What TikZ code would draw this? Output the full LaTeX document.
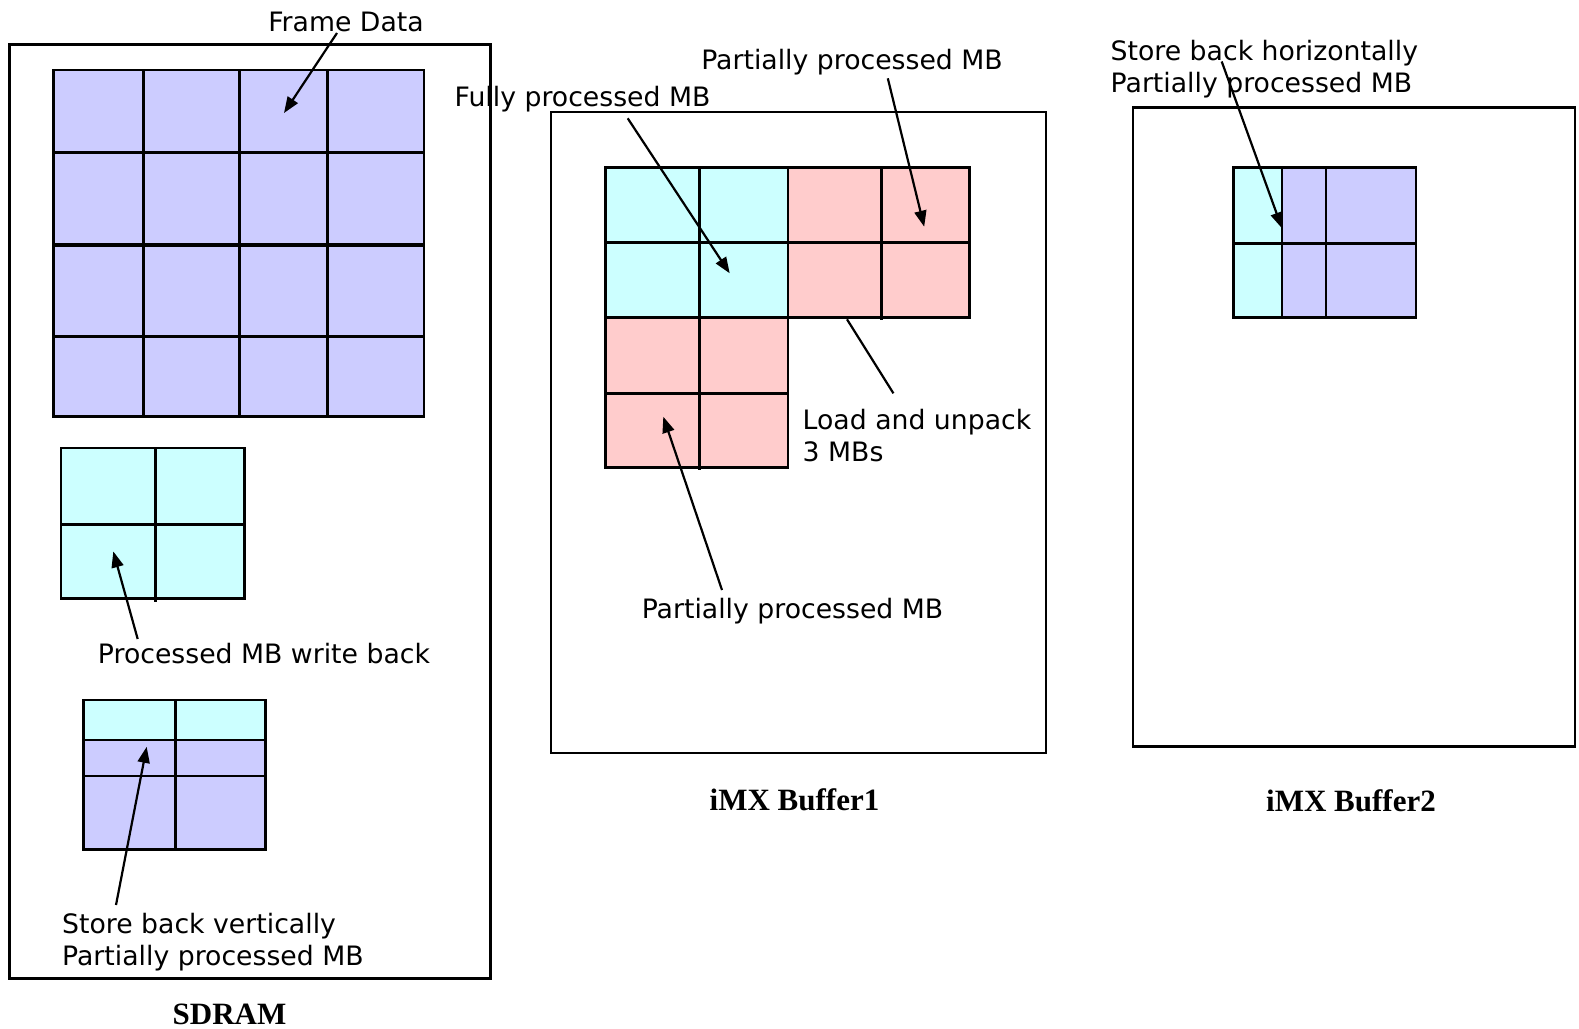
\documentclass[tikz,border=0pt]{standalone}
\usepackage{fontspec}
\usetikzlibrary{arrows.meta}
\newfontfamily\labfont{DejaVu Sans}
\newfontfamily\ttlfont{Liberation Serif}
\definecolor{mbpurple}{HTML}{CCCCFF}
\definecolor{mbcyan}{HTML}{CCFFFF}
\definecolor{mbpink}{HTML}{FFCCCC}
\tikzset{
  boxline/.style={draw=black,line width=2.5pt},
  gridline/.style={draw=black,line width=2.6pt},
  lbl/.style={inner sep=0pt,font=\labfont\fontsize{26.7}{32.2}\selectfont,align=left},
  ttl/.style={inner sep=0pt,font=\ttlfont\bfseries\fontsize{31}{36}\selectfont},
  ptr/.style={draw=black,line width=2.2pt,-{Triangle[length=16pt,width=12pt]}},
  plain/.style={draw=black,line width=2.2pt}
}
\begin{document}
\begin{tikzpicture}[x=1pt,y=-1pt]
\useasboundingbox (0,0) rectangle (1579,1028);
\fill[white] (0,0) rectangle (1579,1028);

% ---------- SDRAM ----------
\node[boxline,minimum width=481pt,minimum height=934pt,anchor=north west,inner sep=0pt] (sdram) at (8,43) {};
% frame data grid
\fill[mbpurple] (53.3,70) rectangle (424,416.7);
\draw[gridline] (53.3,70) rectangle (424,416.7);
\draw[gridline] (143.7,70) -- (143.7,416.7);
\draw[gridline,line width=3.4pt] (239.7,70) -- (239.7,416.7);
\draw[gridline] (327.7,70) -- (327.7,416.7);
\draw[gridline] (53.3,152.7) -- (424,152.7);
\draw[gridline,line width=3.4pt] (53.3,245) -- (424,245);
\draw[gridline] (53.3,336.7) -- (424,336.7);
\coordinate (fdcell) at (284,113);
% processed MB block
\fill[mbcyan] (61,448) rectangle (244.3,598.7);
\draw[gridline] (61,448) rectangle (244.3,598.7);
\draw[gridline] (155.7,448) -- (155.7,601.7);
\draw[gridline] (61,524.3) -- (245.5,524.3);
\coordinate (wbcell) at (113.3,551.4);
% store back vertically block
\fill[mbpurple] (83.3,700) rectangle (265.7,849.5);
\fill[mbcyan] (83.3,700) rectangle (265.7,740);
\draw[gridline] (83.3,700) rectangle (265.7,849.5);
\draw[gridline] (83.3,740) -- (265.7,740);
\draw[gridline] (83.3,776) -- (265.7,776);
\draw[gridline] (175.7,700) -- (175.7,849.5);
\coordinate (svcell) at (146.7,746.8);

\node[lbl] (fdtxt) at (346,22) {Frame Data};
\node[lbl] (wbtxt) at (264,654) {Processed MB write back};
\node[lbl,anchor=west] (svtxt) at (62,942.5) {Store back vertically\\Partially processed MB};
\node[ttl] (sdramlbl) at (229.5,1014) {SDRAM};

\coordinate (fdtail) at (337,33);
\coordinate (wbtail) at (137.7,639);
\coordinate (svtail) at (116,905);
\draw[ptr] (fdtail) -- (fdcell);
\draw[ptr] (wbtail) -- (wbcell);
\draw[ptr] (svtail) -- (svcell);

% ---------- iMX Buffer1 ----------
\node[boxline,minimum width=495pt,minimum height=641pt,anchor=north west,inner sep=0pt] (buf1) at (549.5,110.7) {};
\fill[mbcyan] (605.2,167.3) rectangle (787.8,317.3);
\fill[mbpink] (787.8,167.3) rectangle (969.6,317.3);
\fill[mbpink] (605.2,317.3) rectangle (787.8,467.7);
\draw[gridline] (605.2,167.3) -- (969.6,167.3) -- (969.6,317.3) -- (787.8,317.3) -- (787.8,467.7) -- (605.2,467.7) -- cycle;
\draw[gridline] (787.8,167.3) -- (787.8,317.3);
\draw[gridline] (605.2,317.3) -- (787.8,317.3);
\draw[gridline] (699.7,167.3) -- (699.7,470);
\draw[gridline] (881.5,167.3) -- (881.5,320);
\draw[gridline] (605.2,242.7) -- (969.6,242.7);
\draw[gridline] (605.2,393.3) -- (787.8,393.3);
\coordinate (fpcell) at (729.7,273.3);
\coordinate (pptcell) at (924.2,226.7);
\coordinate (ppbcell) at (663.3,416.7);
\coordinate (ldedge) at (847,319.3);

\node[lbl] (fptxt) at (582.5,99) {Fully processed MB};
\node[lbl] (ppttxt) at (852,62.5) {Partially processed MB};
\node[lbl,anchor=west] (ldtxt) at (802.5,435.5) {Load and unpack\\3 MBs};
\node[lbl] (ppbtxt) at (792.5,611) {Partially processed MB};
\node[ttl] (buf1lbl) at (794.5,799.5) {iMX Buffer1};

\coordinate (fptail) at (627.7,118.3);
\coordinate (ppttail) at (887.8,78.3);
\coordinate (ldtail) at (893.4,393.3);
\coordinate (ppbtail) at (722,590);
\draw[ptr] (fptail) -- (fpcell);
\draw[ptr] (ppttail) -- (pptcell);
\draw[plain] (ldedge) -- (ldtail);
\draw[ptr] (ppbtail) -- (ppbcell);

% ---------- iMX Buffer2 ----------
\node[boxline,minimum width=442pt,minimum height=639pt,anchor=north west,inner sep=0pt] (buf2) at (1131.7,106) {};
\fill[mbpurple] (1233.3,167.3) rectangle (1416,317.3);
\fill[mbcyan] (1233.3,167.3) rectangle (1282,317.3);
\draw[gridline] (1233.3,167.3) rectangle (1416,317.3);
\draw[gridline] (1282,167.3) -- (1282,317.3);
\draw[gridline] (1326,167.3) -- (1326,317.3);
\draw[gridline] (1233.3,243.3) -- (1416,243.3);
\coordinate (shcell) at (1282,228.3);

\node[lbl,anchor=west] (shtxt) at (1110.5,69) {Store back horizontally\\Partially processed MB};
\node[ttl] (buf2lbl) at (1351,801) {iMX Buffer2};

\coordinate (shtail) at (1221.7,61.5);
\draw[ptr] (shtail) -- (shcell);
\end{tikzpicture}
\end{document}
